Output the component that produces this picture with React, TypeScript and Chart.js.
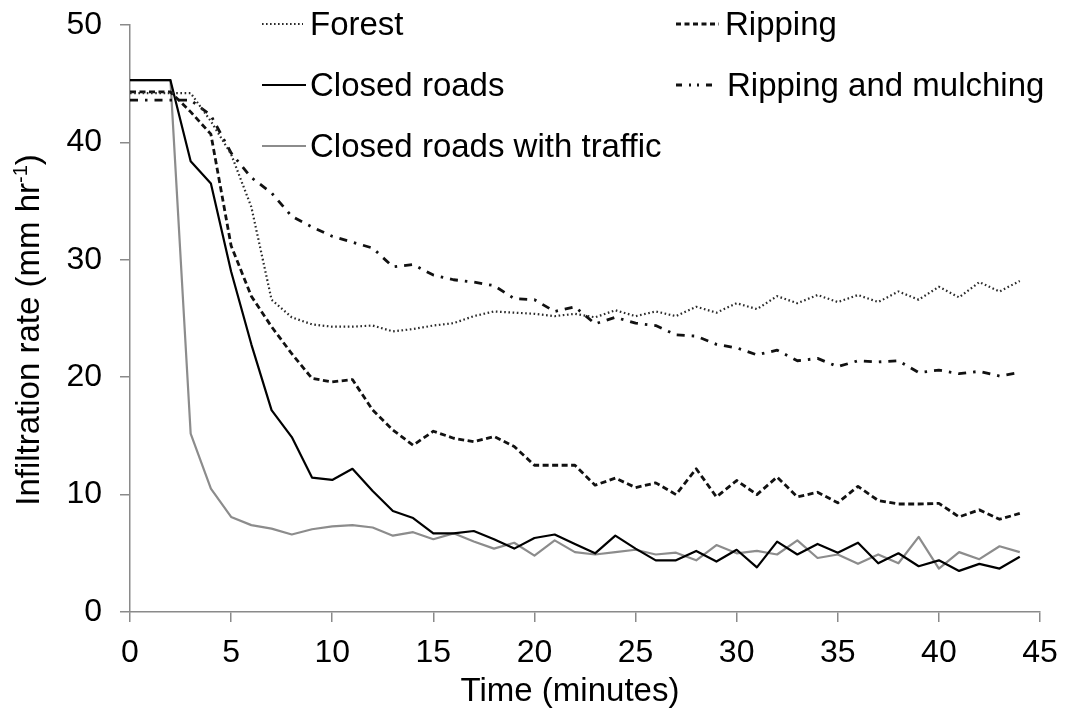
import React, { useEffect, useRef } from "react";
import { Chart, registerables } from "chart.js";

Chart.register(...registerables);

// ---- Data ----
const MINUTES = [
  0, 1, 2, 3, 4, 5, 6, 7, 8, 9, 10, 11, 12, 13, 14, 15, 16, 17, 18, 19, 20, 21,
  22, 23, 24, 25, 26, 27, 28, 29, 30, 31, 32, 33, 34, 35, 36, 37, 38, 39, 40,
  41, 42, 43, 44,
];

const FOREST = [
  44.2, 44.2, 44.2, 44.2, 41.8, 39.0, 34.5, 26.6, 25.1, 24.5, 24.3, 24.3, 24.4,
  23.9, 24.1, 24.4, 24.6, 25.2, 25.6, 25.5, 25.4, 25.2, 25.4, 25.1, 25.7, 25.2,
  25.6, 25.2, 26.0, 25.5, 26.3, 25.8, 26.9, 26.3, 27.0, 26.4, 27.0, 26.4, 27.3,
  26.6, 27.7, 26.8, 28.1, 27.3, 28.2,
];

const RIPPING = [
  44.3, 44.3, 44.3, 42.6, 40.7, 31.2, 26.9, 24.3, 22.0, 19.9, 19.6, 19.8, 17.2,
  15.5, 14.2, 15.4, 14.8, 14.5, 14.95, 14.1, 12.5, 12.5, 12.5, 10.8, 11.4, 10.6,
  11.0, 10.0, 12.2, 9.8, 11.2, 10.0, 11.5, 9.8, 10.2, 9.3, 10.7, 9.5, 9.2, 9.2,
  9.25, 8.1, 8.7, 7.9, 8.4,
];

const CLOSED_ROADS = [
  45.3, 45.3, 45.3, 38.4, 36.5, 29.0, 22.8, 17.2, 14.9, 11.45, 11.25, 12.2,
  10.3, 8.6, 8.0, 6.7, 6.7, 6.9, 6.2, 5.4, 6.3, 6.6, 5.8, 5.0, 6.5, 5.4, 4.4,
  4.4, 5.2, 4.3, 5.3, 3.8, 6.0, 4.9, 5.8, 5.05, 5.9, 4.15, 5.0, 3.9, 4.4, 3.5,
  4.1, 3.7, 4.7,
];

const RIPPING_MULCHING = [
  43.6, 43.6, 43.6, 43.6, 42.3, 39.1, 37.0, 35.7, 33.7, 32.8, 32.0, 31.5, 31.0,
  29.4, 29.6, 28.7, 28.3, 28.1, 27.8, 26.7, 26.6, 25.6, 26.0, 24.55, 25.1, 24.6,
  24.4, 23.6, 23.5, 22.8, 22.5, 21.9, 22.3, 21.4, 21.6, 20.9, 21.4, 21.3, 21.4,
  20.4, 20.6, 20.3, 20.5, 20.1, 20.4,
];

const CLOSED_TRAFFIC = [
  45.3, 45.3, 45.3, 15.2, 10.5, 8.1, 7.4, 7.1, 6.6, 7.05, 7.3, 7.4, 7.2, 6.5,
  6.8, 6.2, 6.7, 6.0, 5.4, 5.9, 4.8, 6.1, 5.1, 4.9, 5.1, 5.3, 4.9, 5.05, 4.4,
  5.7, 5.0, 5.2, 4.9, 6.1, 4.6, 4.9, 4.1, 4.9, 4.15, 6.4, 3.7, 5.1, 4.5, 5.6,
  5.1,
];

const SERIES_LABELS = [
  "Forest",
  "Ripping",
  "Closed roads",
  "Ripping and mulching",
  "Closed roads with traffic",
];

const X_TITLE = "Time (minutes)";
const Y_TITLE_MAIN = "Infiltration rate (mm hr";
const Y_TITLE_SUP = "-1";
const Y_TITLE_TAIL = ")";

const FONT = '"Liberation Sans", Arial, Helvetica, sans-serif';

// ---- Styles ----
const STYLES = [
  { color: "#2a2a2a", width: 2.2, dash: [1.6, 2.6], legendDash: [1.6, 2.4] },
  { color: "#111111", width: 2.8, dash: [6, 3.5], legendDash: [5, 3.5] },
  { color: "#000000", width: 2.2, dash: [], legendDash: [] },
  { color: "#111111", width: 2.8, dash: [8, 7, 2.5, 7], legendDash: [6, 7, 2, 6, 2, 7] },
  { color: "#8c8c8c", width: 2.2, dash: [], legendDash: [] },
];

// legend slot: [sampleStart, sampleEnd, textX, lineY, baselineY]
const LEGEND_SLOTS = [
  [262, 303, 310, 24, 34.5],
  [676, 719, 725, 24, 34.5],
  [262, 306, 310, 85, 95.5],
  [676, 718, 727, 85, 95.5],
  [262, 306, 310, 146, 156.5],
];

const overlayPlugin = {
  id: "overlayText",
  afterDraw(chart: any) {
    const ctx = chart.ctx as CanvasRenderingContext2D;
    ctx.save();
    ctx.fillStyle = "#000";
    ctx.textBaseline = "alphabetic";

    // x title
    ctx.font = `33px ${FONT}`;
    ctx.textAlign = "center";
    ctx.fillText(X_TITLE, 570, 701);

    // legend
    ctx.textAlign = "left";
    chart.data.datasets.forEach((ds: any, i: number) => {
      const slot = LEGEND_SLOTS[i];
      const st = STYLES[i];
      ctx.save();
      ctx.strokeStyle = st.color;
      ctx.lineWidth = st.width;
      ctx.setLineDash(st.legendDash);
      ctx.lineCap = "butt";
      ctx.beginPath();
      ctx.moveTo(slot[0], slot[3]);
      ctx.lineTo(slot[1], slot[3]);
      ctx.stroke();
      ctx.restore();
      ctx.font = `33px ${FONT}`;
      ctx.fillStyle = "#000";
      ctx.fillText(ds.label, slot[2], slot[4]);
    });

    // y title (rotated, with superscript)
    ctx.translate(38.5, 330);
    ctx.rotate(-Math.PI / 2);
    ctx.font = `33px ${FONT}`;
    const w1 = ctx.measureText(Y_TITLE_MAIN).width;
    const w3 = ctx.measureText(Y_TITLE_TAIL).width;
    ctx.font = `20px ${FONT}`;
    const w2 = ctx.measureText(Y_TITLE_SUP).width;
    const x0 = -(w1 + w2 + w3) / 2;
    ctx.textAlign = "left";
    ctx.font = `33px ${FONT}`;
    ctx.fillText(Y_TITLE_MAIN, x0, 0);
    ctx.font = `20px ${FONT}`;
    ctx.fillText(Y_TITLE_SUP, x0 + w1, -12);
    ctx.font = `33px ${FONT}`;
    ctx.fillText(Y_TITLE_TAIL, x0 + w1 + w2, 0);
    ctx.restore();
  },
};

const zeroPadding = (scale: any) => {
  scale.paddingTop = 0;
  scale.paddingBottom = 0;
  scale.paddingLeft = 0;
  scale.paddingRight = 0;
};

export default function App() {
  const canvasRef = useRef<HTMLCanvasElement | null>(null);

  useEffect(() => {
    if (!canvasRef.current) return;
    const seriesValues = [FOREST, RIPPING, CLOSED_ROADS, RIPPING_MULCHING, CLOSED_TRAFFIC];
    const datasets = SERIES_LABELS.map((label, i) => ({
      label,
      data: MINUTES.map((m, j) => ({ x: m, y: seriesValues[i][j] })),
      borderColor: STYLES[i].color,
      borderWidth: STYLES[i].width,
      borderDash: STYLES[i].dash,
      borderCapStyle: "butt" as const,
      borderJoinStyle: "round" as const,
      pointRadius: 0,
      tension: 0,
      fill: false,
    }));

    const axisColor = "#8a8a8a";
    const chart = new Chart(canvasRef.current, {
      type: "line",
      data: { datasets },
      options: {
        animation: false,
        responsive: false,
        devicePixelRatio: 1,
        layout: { padding: { top: 25, right: 26, left: 0, bottom: 0 } },
        plugins: {
          legend: { display: false },
          tooltip: { enabled: false },
          title: { display: false },
        },
        scales: {
          x: {
            type: "linear",
            min: 0,
            max: 45,
            afterFit: (scale: any) => {
              scale.height = 107;
              zeroPadding(scale);
            },
            ticks: {
              stepSize: 5,
              color: "#000",
              padding: 12,
              maxRotation: 0,
              font: { family: FONT, size: 32 },
            },
            grid: {
              drawOnChartArea: false,
              drawTicks: true,
              tickLength: 10,
              color: axisColor,
              lineWidth: 1.5,
            },
            border: { color: axisColor, width: 1.5 },
          },
          y: {
            type: "linear",
            min: 0,
            max: 50,
            afterFit: (scale: any) => {
              scale.width = 130;
              zeroPadding(scale);
            },
            ticks: {
              stepSize: 10,
              color: "#000",
              padding: 18,
              font: { family: FONT, size: 32 },
            },
            grid: {
              drawOnChartArea: false,
              drawTicks: true,
              tickLength: 10,
              color: axisColor,
              lineWidth: 1.5,
            },
            border: { color: axisColor, width: 1.5 },
          },
        },
      },
      plugins: [overlayPlugin],
    });
    return () => chart.destroy();
  }, []);

  return (
    <div
      style={{
        position: "fixed",
        left: 0,
        top: 0,
        width: 1066,
        height: 719,
        background: "#fff",
      }}
    >
      <canvas ref={canvasRef} width={1066} height={719} />
    </div>
  );
}
